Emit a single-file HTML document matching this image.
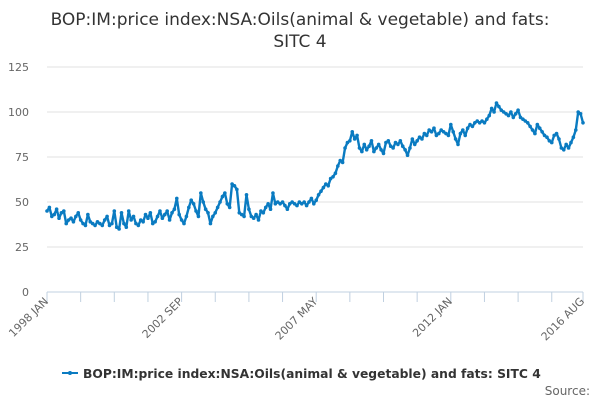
<!DOCTYPE html>
<html><head><meta charset="utf-8"><style>
body{margin:0;background:#fff;font-family:"Liberation Sans","DejaVu Sans",sans-serif;}
</style></head><body>
<svg id="chart" width="600" height="400" xmlns="http://www.w3.org/2000/svg" font-family="DejaVu Sans, Liberation Sans, sans-serif">
<text x="300" y="25" text-anchor="middle" font-size="17" fill="#333">BOP:IM:price index:NSA:Oils(animal &amp; vegetable) and fats:</text>
<text x="300" y="47" text-anchor="middle" font-size="17" fill="#333">SITC 4</text>
<g id="grid"></g><g id="yticks"></g><g id="xaxis"></g><g id="series"></g>
<g>
<line x1="62" y1="373" x2="78" y2="373" stroke="#0a7bc1" stroke-width="2"/>
<circle cx="70" cy="373" r="2" fill="#0a7bc1"/>
<text x="83" y="378" font-size="12.3" font-weight="bold" fill="#333">BOP:IM:price index:NSA:Oils(animal &amp; vegetable) and fats: SITC 4</text>
</g>
<text x="590" y="395" text-anchor="end" font-size="12" fill="#666">Source:</text>
</svg>
<script>
const yTicks=[0,25,50,75,100,125];
const xLabels=["1998 JAN","2002 SEP","2007 MAY","2012 JAN","2016 AUG"];
const xLabelIdx=[0,56,112,168,223];
const values=[
45,47,42,43,46,41,44,45,38,40,41,39,
42,44,40,38,37,43,39,38,37,39,38,37,
40,42,37,38,45,36,35,44,38,36,45,40,
42,38,37,40,39,43,41,44,38,39,42,45,
41,43,45,40,44,46,52,43,40,38,42,47,
51,49,45,42,55,50,46,44,38,42,44,47,
50,53,55,49,47,60,59,57,44,43,42,54,
46,42,41,43,40,45,44,47,49,46,55,49,
50,49,50,48,46,49,50,49,48,50,49,50,
48,50,52,49,51,54,56,58,60,59,63,64,
66,70,73,72,80,83,84,89,85,87,80,78,
82,79,81,84,78,80,82,79,77,83,84,81,
80,83,82,84,81,79,76,80,85,82,84,86,
85,88,87,90,89,91,87,88,90,89,88,87,
93,89,85,82,88,90,87,91,93,92,94,95,
94,95,94,96,98,102,100,105,103,101,100,99,
98,100,97,99,101,97,96,95,94,92,90,88,
93,91,89,87,86,84,83,87,88,85,80,79,
82,80,83,86,90,100,99,94];
const NS="http://www.w3.org/2000/svg";
const x0=47,x1=583,yb=292,yt=67;
const xs=i=>x0+(x1-x0)*i/(values.length-1);
const ys=v=>yb-(yb-yt)*v/125;
function mk(t,a,p){const e=document.createElementNS(NS,t);for(const k in a)e.setAttribute(k,a[k]);p.appendChild(e);return e;}
const grid=document.getElementById('grid'),yt_=document.getElementById('yticks'),xa=document.getElementById('xaxis'),se=document.getElementById('series');
yTicks.forEach(v=>{
 if(v>0){const g=mk('line',{x1:x0,x2:x1,y1:ys(v),y2:ys(v),stroke:'#e0e0e0','stroke-width':1},grid);
 
 }
 const t=mk('text',{x:29,y:ys(v)+4,'text-anchor':'end','font-size':11,fill:'#666'},yt_);t.textContent=v;
 
 
});
const ax=mk('line',{x1:x0,x2:x1,y1:yb,y2:yb,stroke:'#c0d0e0','stroke-width':1},xa);


for(let i=0;i<values.length;i+=14){const tk=mk('line',{x1:xs(i),x2:xs(i),y1:yb,y2:yb+10,stroke:'#c0d0e0'},xa);
 
 }
const lt=mk('line',{x1:xs(223),x2:xs(223),y1:yb,y2:yb+10,stroke:'#c0d0e0'},xa);


xLabels.forEach((l,k)=>{const x=xs(xLabelIdx[k]);
 const t=mk('text',{x:x+2,y:yb+10,'text-anchor':'end','font-size':11,fill:'#666',transform:`rotate(-45 ${x+2} ${yb+10})`},xa);t.textContent=l;
 
 });
const pl=mk('polyline',{points:values.map((v,i)=>xs(i)+','+ys(v)).join(' '),fill:'none',stroke:'#0a7bc1','stroke-width':2.4,'stroke-linejoin':'round'},se);


values.forEach((v,i)=>{const c=mk('circle',{cx:xs(i),cy:ys(v),r:1.8,fill:'#0a7bc1'},se);
 
 });
</script>
</body></html>
